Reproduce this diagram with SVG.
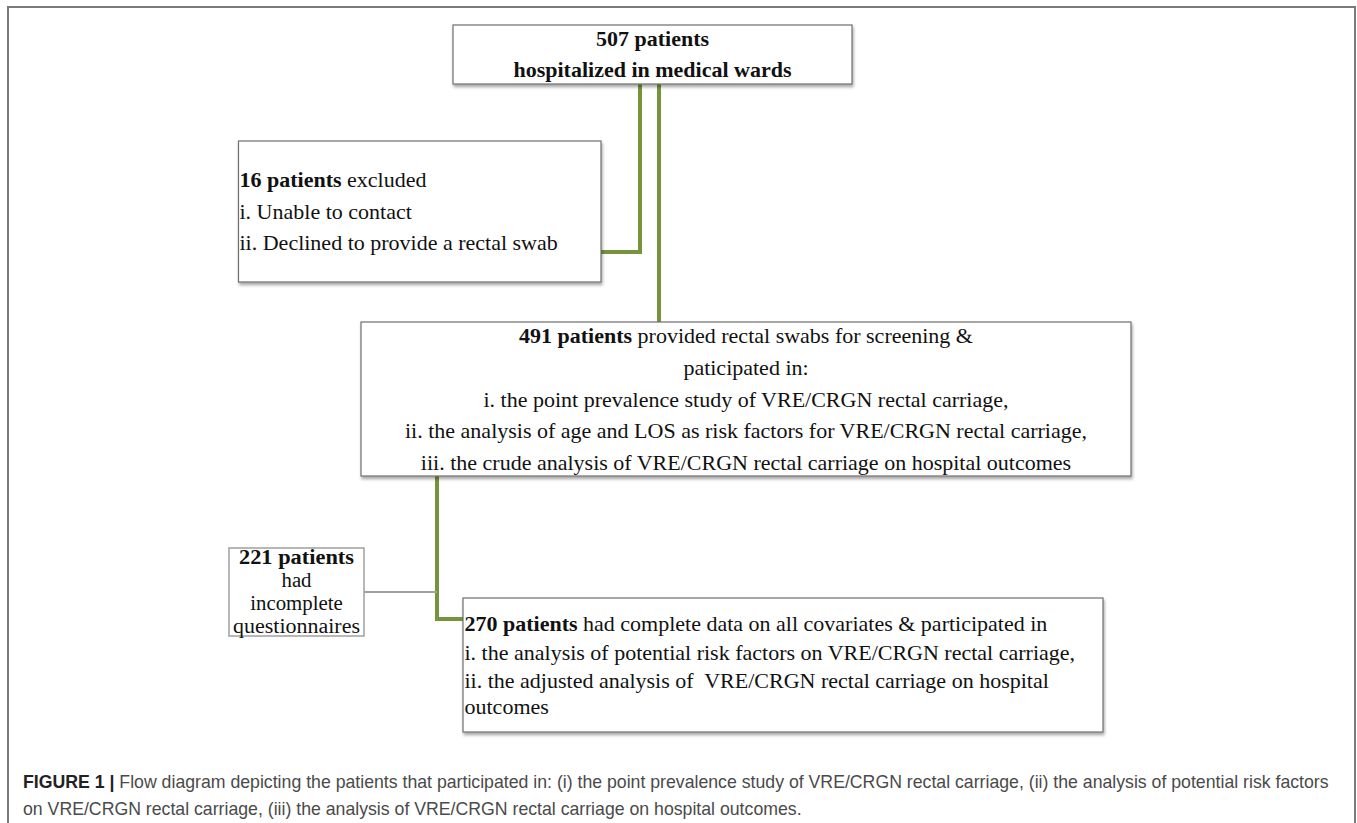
<svg xmlns="http://www.w3.org/2000/svg" width="1357" height="823" viewBox="0 0 1357 823">
<style>
.box{fill:#fff;stroke:#6f6f6f;stroke-width:1.2}
.box2{fill:#fff;stroke:#a0a0a0;stroke-width:1.5}
.t{font-family:"Liberation Serif","Times New Roman",serif;font-size:22px;fill:#111}
.s{font-size:20.8px}
.b{font-weight:bold}
.c{text-anchor:middle}
.g{fill:none;stroke:#77933C;stroke-width:4}
.gr{fill:none;stroke:#a0a0a0;stroke-width:1.8}
.cap{font-family:"Liberation Sans",Arial,sans-serif;font-size:17.7px;fill:#4a4a4a}
.capb{font-weight:bold;fill:#222}
</style>
<defs>
<filter id="sh" x="-5%" y="-10%" width="110%" height="130%">
<feDropShadow dx="1" dy="2.5" stdDeviation="1.6" flood-color="#000" flood-opacity="0.35"/>
</filter>
</defs>
<rect x="0" y="0" width="1357" height="823" fill="#fff"/>
<path d="M8,823 V7 H1355 V823" fill="none" stroke="#7a7a7a" stroke-width="2"/>

<g id="connectors">
<path class="g" d="M640,84 V252 H601"/>
<path class="g" d="M659,84 V322"/>
<path class="g" d="M437,476 V619 H463"/>
<path class="gr" d="M364,592 H437"/>
</g>

<g id="n507">
<rect class="box" x="453" y="25" width="399" height="59" filter="url(#sh)"/>
<text class="t b c" x="652.5" y="45.5">507 patients</text>
<text class="t b c" x="652.5" y="77">hospitalized in medical wards</text>
</g>

<g id="n16">
<rect class="box" x="238.5" y="141" width="362.5" height="141" filter="url(#sh)"/>
<text class="t" x="239.5" y="187"><tspan class="b">16 patients</tspan> excluded</text>
<text class="t" x="239.5" y="219">i. Unable to contact</text>
<text class="t" x="239.5" y="250">ii. Declined to provide a rectal swab</text>
</g>

<g id="n491">
<rect class="box" x="361" y="322" width="770" height="154" filter="url(#sh)"/>
<text class="t c" x="746" y="343"><tspan class="b">491 patients</tspan> provided rectal swabs for screening &amp;</text>
<text class="t c" x="746" y="375">paticipated in:</text>
<text class="t c" x="746" y="407">i. the point prevalence study of VRE/CRGN rectal carriage,</text>
<text class="t c" x="746" y="438">ii. the analysis of age and LOS as risk factors for VRE/CRGN rectal carriage,</text>
<text class="t c" x="746" y="470">iii. the crude analysis of VRE/CRGN rectal carriage on hospital outcomes</text>
</g>

<g id="n221">
<rect class="box2" x="229" y="548" width="135" height="88"/>
<text class="t s b c" x="296.5" y="564" textLength="115" lengthAdjust="spacingAndGlyphs">221 patients</text>
<text class="t s c" x="296.5" y="587">had</text>
<text class="t s c" x="296.5" y="610">incomplete</text>
<text class="t s c" x="296.5" y="633" textLength="127" lengthAdjust="spacingAndGlyphs">questionnaires</text>
</g>

<g id="n270">
<rect class="box" x="463" y="598" width="640" height="134" filter="url(#sh)"/>
<text class="t" x="464.5" y="631"><tspan class="b">270 patients</tspan> had complete data on all covariates &amp; participated in</text>
<text class="t" x="464.5" y="660">i. the analysis of potential risk factors on VRE/CRGN rectal carriage,</text>
<text class="t" x="464.5" y="688" xml:space="preserve">ii. the adjusted analysis of  VRE/CRGN rectal carriage on hospital</text>
<text class="t" x="464.5" y="714">outcomes</text>
</g>

<g id="caption">
<text class="cap" x="23" y="788"><tspan class="capb">FIGURE 1 |</tspan> Flow diagram depicting the patients that participated in: (i) the point prevalence study of VRE/CRGN rectal carriage, (ii) the analysis of potential risk factors</text>
<text class="cap" x="23" y="815">on VRE/CRGN rectal carriage, (iii) the analysis of VRE/CRGN rectal carriage on hospital outcomes.</text>
</g>
</svg>
